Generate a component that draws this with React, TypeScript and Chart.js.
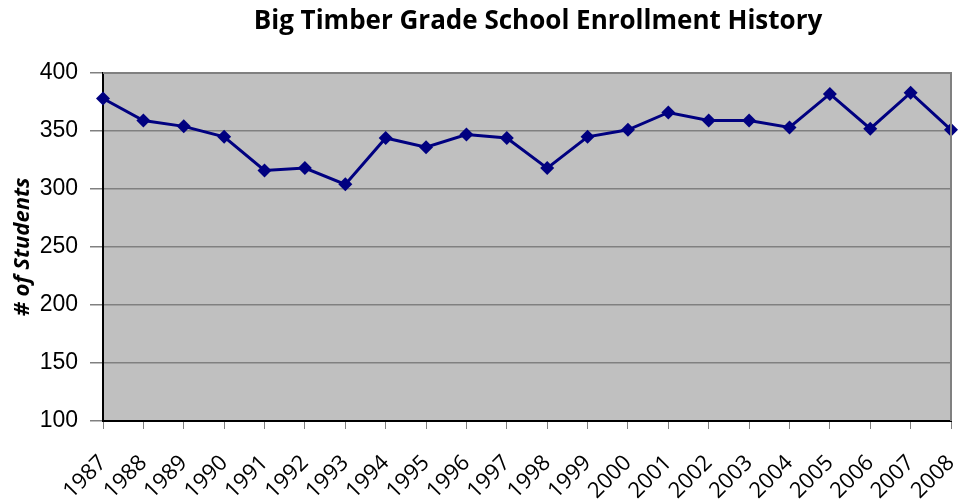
import React, { useEffect, useRef } from "react";
import { Chart, registerables } from "chart.js";

Chart.register(...registerables);

const years = ["1987","1988","1989","1990","1991","1992","1993","1994","1995","1996","1997","1998","1999","2000","2001","2002","2003","2004","2005","2006","2007","2008"];
const students = [378,359,354,345,316,318,304,344,336,347,344,318,345,351,366,359,359,353,382,352,383,351];
const yTicks = [100,150,200,250,300,350,400];
const chartTitle = "Big Timber Grade School Enrollment History";

const bgPlugin = {
  id: "plotBg",
  beforeDraw(chart: any) {
    const { ctx, chartArea } = chart;
    if (!chartArea) return;
    ctx.save();
    ctx.fillStyle = "#c0c0c0";
    ctx.fillRect(chartArea.left, chartArea.top, chartArea.right - chartArea.left, chartArea.bottom - chartArea.top);
    ctx.restore();
  },
  afterDatasetsDraw(chart: any) {
    const { ctx, chartArea } = chart;
    ctx.save();
    ctx.strokeStyle = "#808080";
    ctx.lineWidth = 2;
    ctx.beginPath();
    ctx.moveTo(chartArea.left, chartArea.top);
    ctx.lineTo(chartArea.right, chartArea.top);
    ctx.lineTo(chartArea.right, chartArea.bottom);
    ctx.stroke();
    ctx.restore();
  },
  afterDraw(chart: any) {
    const { ctx } = chart;
    ctx.save();
    ctx.fillStyle = "#000";
    ctx.font = "bold 26px 'Open Sans'";
    ctx.textAlign = "center";
    ctx.textBaseline = "middle";
    ctx.fillText(chartTitle, 538, 22);
    ctx.restore();
  },
};

export default function App() {
  const ref = useRef<HTMLCanvasElement>(null);
  useEffect(() => {
    if (!ref.current) return;
    const chart = new Chart(ref.current, {
      type: "line",
      data: {
        labels: years,
        datasets: [{
          data: students,
          borderColor: "#000080",
          backgroundColor: "#000080",
          borderWidth: 3,
          pointStyle: "rectRot",
          pointRadius: 7,
          pointBorderWidth: 0,
          tension: 0,
        }],
      },
      options: {
        responsive: false,
        animation: false,
        layout: { padding: { top: 73, right: 6, left: 6, bottom: 0 } },
        plugins: {
          legend: { display: false },
          tooltip: { enabled: false },
          title: { display: false },
        },
        scales: {
          x: {
            offset: false,
            grid: { display: true, drawOnChartArea: false, drawTicks: true, tickLength: 8, color: "#808080" },
            border: { color: "#000", width: 2 },
            ticks: {
              color: "#000",
              font: { family: "Open Sans", size: 22 },
              maxRotation: 45,
              minRotation: 45,
              autoSkip: false,
              padding: 21,
            },
            afterFit(scale: any) {
              scale.height = 79;
              scale.paddingRight = 0;
              scale.paddingLeft = 0;
            },
          },
          y: {
            min: 100,
            max: 400,
            afterBuildTicks(axis: any) {
              axis.ticks = yTicks.map((v) => ({ value: v }));
            },
            grid: { color: "#808080", lineWidth: 1.5, tickLength: 13 },
            border: { color: "#000", width: 2 },
            ticks: {
              color: "#000",
              font: { family: "Liberation Sans", size: 23 },
              padding: 12,
            },
            title: {
              display: true,
              text: "# of Students",
              color: "#000",
              font: { family: "Open Sans", size: 22, weight: "bold", style: "italic" },
              padding: { top: 4, bottom: 0 },
            },
            afterFit(scale: any) {
              scale.width = 97;
              scale.paddingTop = 0;
              scale.paddingBottom = 0;
            },
          },
        },
      },
      plugins: [bgPlugin],
    });
    return () => chart.destroy();
  }, []);
  return (
    <div style={{ position: "absolute", left: 0, top: 0, width: 958, height: 500, background: "#fff" }}>
      <canvas ref={ref} width={958} height={500} />
    </div>
  );
}
